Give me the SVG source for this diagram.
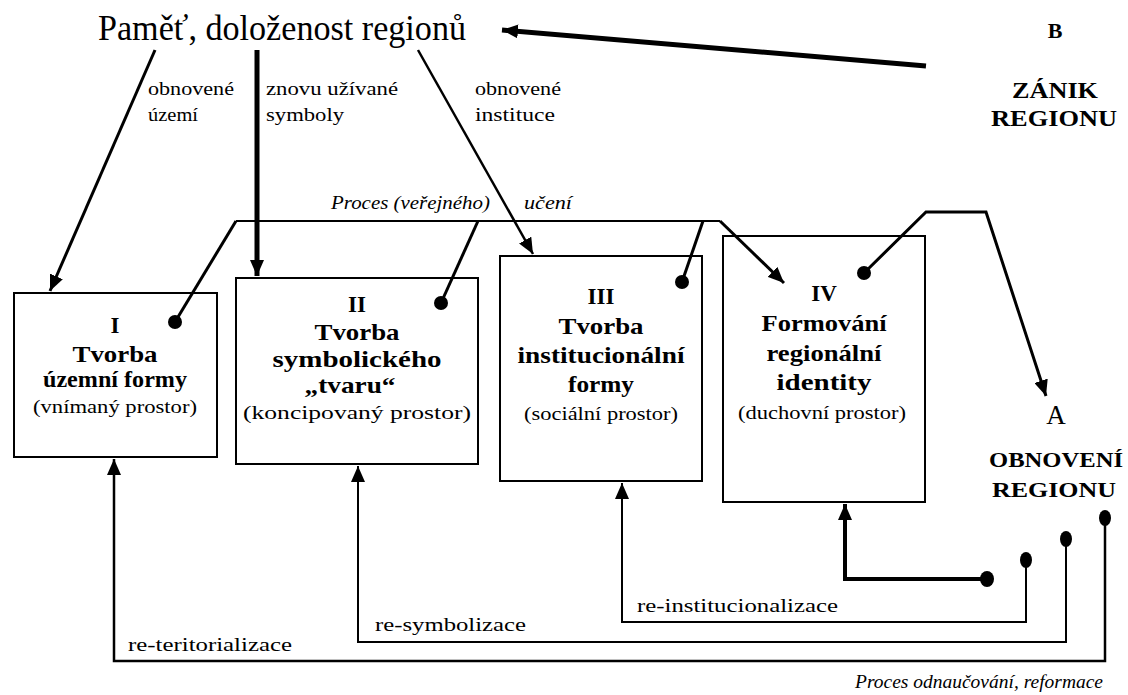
<svg xmlns="http://www.w3.org/2000/svg" width="1128" height="695" viewBox="0 0 1128 695">
<style>
text{font-family:"Liberation Serif","Times New Roman",serif;fill:#000}
.b{font-weight:bold}
.it{font-style:italic}
.c{text-anchor:middle}
.ln{fill:none;stroke:#000;stroke-linejoin:miter}
.box{fill:#fff;stroke:#000;stroke-width:2}
.bt{font-size:23px;font-weight:bold;text-anchor:middle}
.pt{font-size:19px;text-anchor:middle}
.lb{font-size:18px}
</style>
<defs>
<marker id="ah" markerUnits="userSpaceOnUse" markerWidth="18" markerHeight="14" refX="16" refY="7" orient="auto">
<path d="M0,0 L16,7 L0,14 z" fill="#000"/>
</marker>
</defs>
<rect width="1128" height="695" fill="#fff"/>

<g id="title">
<text x="98" y="40" font-size="35" textLength="368" lengthAdjust="spacingAndGlyphs">Paměť, doloženost regionů</text>
</g>
<g id="zanik">
<text class="b c" x="1055" y="38" font-size="22">B</text>
<text class="b c" x="1055" y="98" font-size="23" textLength="86" lengthAdjust="spacingAndGlyphs">ZÁNIK</text>
<text class="b c" x="1054" y="126" font-size="23" textLength="126" lengthAdjust="spacingAndGlyphs">REGIONU</text>
</g>
<g id="obnoveni">
<text class="c" x="1056" y="424" font-size="27">A</text>
<text class="b c" x="1056" y="467" font-size="22" textLength="134" lengthAdjust="spacingAndGlyphs">OBNOVENÍ</text>
<text class="b c" x="1054" y="497" font-size="22" textLength="124" lengthAdjust="spacingAndGlyphs">REGIONU</text>
</g>

<g id="box1">
<rect class="box" x="14" y="293" width="203" height="164"/>
<text class="bt" x="115" y="333">I</text>
<text class="bt" x="115" y="362" textLength="85" lengthAdjust="spacingAndGlyphs">Tvorba</text>
<text class="bt" x="115" y="387" textLength="144" lengthAdjust="spacingAndGlyphs">územní formy</text>
<text class="pt" x="115" y="413" textLength="164" lengthAdjust="spacingAndGlyphs">(vnímaný prostor)</text>
</g>
<g id="box2">
<rect class="box" x="236" y="278" width="242" height="186"/>
<text class="bt" x="357" y="312">II</text>
<text class="bt" x="357" y="340" textLength="85" lengthAdjust="spacingAndGlyphs">Tvorba</text>
<text class="bt" x="357" y="367" textLength="169" lengthAdjust="spacingAndGlyphs">symbolického</text>
<text class="bt" x="350" y="393" textLength="91" lengthAdjust="spacingAndGlyphs">„tvaru“</text>
<text class="pt" x="357" y="419" textLength="228" lengthAdjust="spacingAndGlyphs">(koncipovaný prostor)</text>
</g>
<g id="box3">
<rect class="box" x="500" y="256" width="202" height="225"/>
<text class="bt" x="601" y="304">III</text>
<text class="bt" x="601" y="334" textLength="85" lengthAdjust="spacingAndGlyphs">Tvorba</text>
<text class="bt" x="601" y="363" textLength="167" lengthAdjust="spacingAndGlyphs">institucionální</text>
<text class="bt" x="601" y="392" textLength="66" lengthAdjust="spacingAndGlyphs">formy</text>
<text class="pt" x="601" y="420" textLength="154" lengthAdjust="spacingAndGlyphs">(sociální prostor)</text>
</g>
<g id="box4">
<rect class="box" x="723" y="236" width="202" height="266"/>
<text class="bt" x="824" y="301">IV</text>
<text class="bt" x="824" y="331" textLength="125" lengthAdjust="spacingAndGlyphs">Formování</text>
<text class="bt" x="824" y="361" textLength="115" lengthAdjust="spacingAndGlyphs">regionální</text>
<text class="bt" x="824" y="390" textLength="95" lengthAdjust="spacingAndGlyphs">identity</text>
<text class="pt" x="822" y="419" textLength="168" lengthAdjust="spacingAndGlyphs">(duchovní prostor)</text>
</g>

<g id="connectors">
<path class="ln" d="M926,66 L502,30" stroke-width="5" marker-end="url(#ah)"/>
<path class="ln" d="M155,50 L50,291" stroke-width="3" marker-end="url(#ah)"/>
<path class="ln" d="M257,50 L257,276" stroke-width="5" marker-end="url(#ah)"/>
<path class="ln" d="M418,50 L533,254" stroke-width="2.5" marker-end="url(#ah)"/>
<path class="ln" d="M236,221 H720" stroke-width="2"/>
<path class="ln" d="M236,221 L175,322" stroke-width="3"/>
<path class="ln" d="M478,221 L441,303" stroke-width="3"/>
<path class="ln" d="M703,221 L682,282" stroke-width="3"/>
<path class="ln" d="M720,221 L784,283" stroke-width="3" marker-end="url(#ah)"/>
<path class="ln" d="M864,273 L926,212 H986 L1046,396" stroke-width="3" marker-end="url(#ah)"/>
<circle cx="175" cy="322" r="7"/>
<circle cx="441" cy="303" r="7"/>
<circle cx="682" cy="282" r="7"/>
<circle cx="864" cy="273" r="7"/>
<path class="ln" d="M1105,518 V661 H114 V459" stroke-width="2.5" marker-end="url(#ah)"/>
<path class="ln" d="M1066,539 V642 H358 V466" stroke-width="2" marker-end="url(#ah)"/>
<path class="ln" d="M1026,560 V622 H622 V483" stroke-width="2" marker-end="url(#ah)"/>
<path class="ln" d="M987,579 H845 V504" stroke-width="4" marker-end="url(#ah)"/>
<ellipse cx="1105" cy="518" rx="6" ry="8"/>
<ellipse cx="1066" cy="539" rx="6" ry="8"/>
<ellipse cx="1026" cy="560" rx="6" ry="8"/>
<ellipse cx="987" cy="579" rx="7" ry="8"/>
</g>

<g id="labels">
<text class="lb" x="148" y="95" textLength="86" lengthAdjust="spacingAndGlyphs">obnovené</text>
<text class="lb" x="148" y="121" textLength="50" lengthAdjust="spacingAndGlyphs">území</text>
<text class="lb" x="266" y="95" textLength="132" lengthAdjust="spacingAndGlyphs">znovu užívané</text>
<text class="lb" x="266" y="121" textLength="78" lengthAdjust="spacingAndGlyphs">symboly</text>
<text class="lb" x="475" y="95" textLength="86" lengthAdjust="spacingAndGlyphs">obnovené</text>
<text class="lb" x="475" y="121" textLength="80" lengthAdjust="spacingAndGlyphs">instituce</text>
<text class="lb it" x="331" y="209" textLength="159" lengthAdjust="spacingAndGlyphs">Proces (veřejného)</text>
<text class="lb it" x="524" y="209" textLength="48" lengthAdjust="spacingAndGlyphs">učení</text>
<text class="lb" x="128" y="651" font-size="20" textLength="164" lengthAdjust="spacingAndGlyphs">re-teritorializace</text>
<text class="lb" x="375" y="631" font-size="20" textLength="151" lengthAdjust="spacingAndGlyphs">re-symbolizace</text>
<text class="lb" x="637" y="612" font-size="20" textLength="201" lengthAdjust="spacingAndGlyphs">re-institucionalizace</text>
<text class="lb it" x="855" y="688" font-size="20" textLength="248" lengthAdjust="spacingAndGlyphs">Proces odnaučování, reformace</text>
</g>
</svg>
